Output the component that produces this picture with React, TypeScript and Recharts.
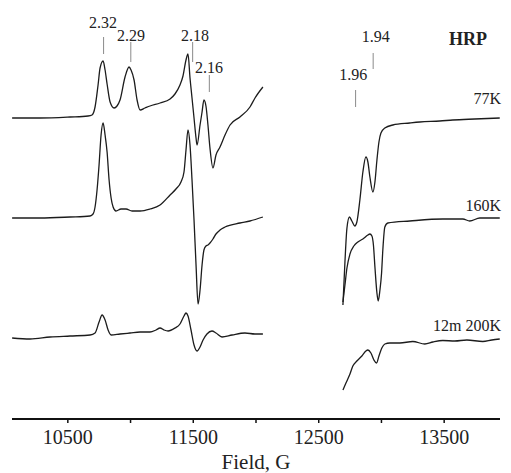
import React from "react";
import { LineChart, Line, XAxis, YAxis, ReferenceLine } from "recharts";

const FONT = '"Liberation Serif", "Times New Roman", serif';

// Field axis (G)
const FIELD_MIN = 10055;
const FIELD_MAX = 13945;
const fieldTicks = [10500, 11000, 11500, 12000, 12500, 13000, 13500];
const labeledTicks = [10500, 11500, 12500, 13500];
const GAP_FIELD = 12380;

// Vertical offsets of the stacked spectra (arbitrary units)
const offset77K = 302;
const offset160K = 201;
const offset200K = 82;

// 77K spectrum, low-field part [field G, intensity a.u.]
const s77KLow: [number, number][] = [
  [10056, -1], [10279, -1], [10518, 0], [10661, 1], [10693, 2], [10717, 10], [10741, 32],
  [10757, 49], [10781, 56], [10797, 47], [10813, 33], [10837, 15], [10869, 9], [10892, 11],
  [10916, 17], [10956, 40], [10988, 50], [11004, 47], [11028, 37], [11052, 17], [11076, 7],
  [11115, 9], [11155, 11], [11235, 14], [11315, 18], [11354, 23], [11394, 32], [11418, 41],
  [11442, 57], [11458, 63], [11474, 39], [11490, 19], [11506, -1], [11522, -21], [11530, -28],
  [11554, -8], [11570, 5], [11585, 17], [11601, 11], [11617, -8], [11633, -31], [11657, -51],
  [11681, -38], [11713, -30], [11753, -18], [11793, -8], [11872, 0], [11952, 10], [11992, 19],
  [12055, 30],
];
// 77K spectrum, high-field part
const s77KHigh: [number, number][] = [
  [12693, -188], [12709, -145], [12725, -111], [12745, -100], [12764, -104], [12788, -109],
  [12804, -105], [12828, -83], [12852, -55], [12876, -40], [12892, -45], [12908, -60],
  [12932, -75], [12948, -65], [12964, -43], [12980, -25], [12996, -16], [13027, -11],
  [13091, -8], [13226, -6], [13306, -5], [13465, -4], [13569, -3], [13744, -2], [13943, -1],
];

// 160K spectrum
const s160KLow: [number, number][] = [
  [10056, 0], [10279, 0], [10518, 1], [10677, 2], [10701, 4], [10717, 11], [10733, 28],
  [10749, 53], [10765, 83], [10781, 95], [10797, 83], [10813, 66], [10829, 38], [10845, 20],
  [10861, 11], [10884, 7], [10924, 9], [10964, 9], [11012, 7], [11076, 7], [11155, 9],
  [11235, 13], [11315, 23], [11362, 29], [11402, 36], [11426, 46], [11442, 68], [11458, 88],
  [11474, 73], [11490, 38], [11506, -2], [11522, -47], [11538, -86], [11554, -72],
  [11570, -47], [11585, -32], [11601, -28], [11617, -27], [11633, -25], [11657, -21],
  [11681, -16], [11713, -12], [11753, -9], [11872, -5], [11952, -3], [12055, 1],
];
const s160KHigh: [number, number][] = [
  [12693, -84], [12709, -67], [12725, -50], [12749, -36], [12780, -28], [12812, -24],
  [12852, -21], [12892, -17], [12908, -16], [12924, -18], [12936, -27], [12948, -49],
  [12964, -75], [12974, -83], [12988, -72], [13001, -55], [13011, -32], [13027, -9],
  [13051, -5], [13226, -3], [13489, -1], [13649, -1], [13704, -3], [13784, 0], [13943, 0],
];

// 12m 200K spectrum
const s200KLow: [number, number][] = [
  [10056, -1], [10199, -2], [10359, 0], [10518, 1], [10677, 2], [10717, 4], [10749, 15],
  [10773, 22], [10797, 17], [10821, 7], [10845, 2], [10916, 3], [10996, 4], [11076, 5],
  [11155, 5], [11203, 7], [11235, 9], [11267, 7], [11299, 6], [11354, 9], [11394, 13],
  [11426, 21], [11442, 24], [11458, 21], [11482, 7], [11506, -8], [11530, -14], [11554, -10],
  [11578, -3], [11609, 3], [11649, 6], [11681, 4], [11729, 0], [11809, 2], [11912, 4],
  [11992, 3], [12055, 3],
];
const s200KHigh: [number, number][] = [
  [12693, -53], [12717, -46], [12749, -37], [12772, -29], [12804, -24], [12844, -19],
  [12876, -14], [12892, -13], [12916, -16], [12940, -23], [12961, -26], [12980, -19],
  [13003, -11], [13027, -7], [13067, -6], [13147, -6], [13250, -4.5], [13346, -7],
  [13410, -5], [13489, -3.5], [13585, -4], [13681, -3], [13808, -4.5], [13880, -3], [13943, -2],
];

// g-value markers: [label, field G, marker top, marker bottom]
const gMarkers: [string, number, number, number][] = [
  ["2.32", 10785, 382, 365],
  ["2.29", 11002, 377, 357],
  ["2.18", 11495, 377, 357],
  ["2.16", 11628, 344, 327],
  ["1.94", 12934, 366, 350],
  ["1.96", 12794, 329, 312],
];

type Row = { field: number; v: number | null };

function buildSeries(low: [number, number][], high: [number, number][], offset: number): Row[] {
  return [
    ...low.map(([f, v]) => ({ field: f, v: v + offset })),
    { field: GAP_FIELD, v: null },
    ...high.map(([f, v]) => ({ field: f, v: v + offset })),
  ];
}

const series77K = buildSeries(s77KLow, s77KHigh, offset77K);
const series160K = buildSeries(s160KLow, s160KHigh, offset160K);
const series200K = buildSeries(s200KLow, s200KHigh, offset200K);

const TRACE = "#1c1c1c";

export default function App() {
  return (
    <div style={{ position: "absolute", left: 0, top: 0, width: 511, height: 473, background: "#fff" }}>
      <LineChart width={511} height={473} margin={{ top: 0, right: 11, bottom: 0, left: 12 }}>
        <XAxis
          type="number"
          dataKey="field"
          domain={[FIELD_MIN, FIELD_MAX]}
          allowDataOverflow
          ticks={fieldTicks}
          interval={0}
          tickFormatter={(v: number) => (labeledTicks.includes(v) ? String(v) : "")}
          tickSize={4}
          tickMargin={7}
          axisLine={{ stroke: "#111", strokeWidth: 2 }}
          tickLine={{ stroke: "#111", strokeWidth: 1.5 }}
          tick={{ fontSize: 20, fill: "#222", fontFamily: FONT }}
          height={54}
          label={{ value: "Field, G", position: "insideBottom", offset: 4, fontSize: 21, fill: "#222", fontFamily: FONT }}
        />
        <YAxis hide type="number" domain={[0, 419]} allowDataOverflow />
        {gMarkers.map(([label, f, y1, y2]) => (
          <ReferenceLine
            key={label}
            segment={[{ x: f, y: y1 }, { x: f, y: y2 }]}
            stroke="#8a8a8a"
            strokeWidth={1}
          />
        ))}
        <Line data={series77K} dataKey="v" type="monotone" dot={false} stroke={TRACE} strokeWidth={1.3} isAnimationActive={false} connectNulls={false} />
        <Line data={series160K} dataKey="v" type="monotone" dot={false} stroke={TRACE} strokeWidth={1.3} isAnimationActive={false} connectNulls={false} />
        <Line data={series200K} dataKey="v" type="monotone" dot={false} stroke={TRACE} strokeWidth={1.3} isAnimationActive={false} connectNulls={false} />
      </LineChart>
      <svg width={511} height={473} style={{ position: "absolute", left: 0, top: 0, pointerEvents: "none" }}>
        <g fontFamily={FONT} fill="#222" fontSize={16}>
          <text x={103} y={27.5} textAnchor="middle">2.32</text>
          <text x={131} y={40.5} textAnchor="middle">2.29</text>
          <text x={195} y={40.5} textAnchor="middle">2.18</text>
          <text x={209} y={72.5} textAnchor="middle">2.16</text>
          <text x={375.7} y={42} textAnchor="middle">1.94</text>
          <text x={353.3} y={79.5} textAnchor="middle">1.96</text>
          <text x={468} y={45} textAnchor="middle" fontWeight="bold" fontSize={18}>HRP</text>
          <text x={501} y={103.5} textAnchor="end">77K</text>
          <text x={501} y={210.5} textAnchor="end">160K</text>
          <text x={501} y={330.5} textAnchor="end">12m 200K</text>
        </g>
      </svg>
    </div>
  );
}
